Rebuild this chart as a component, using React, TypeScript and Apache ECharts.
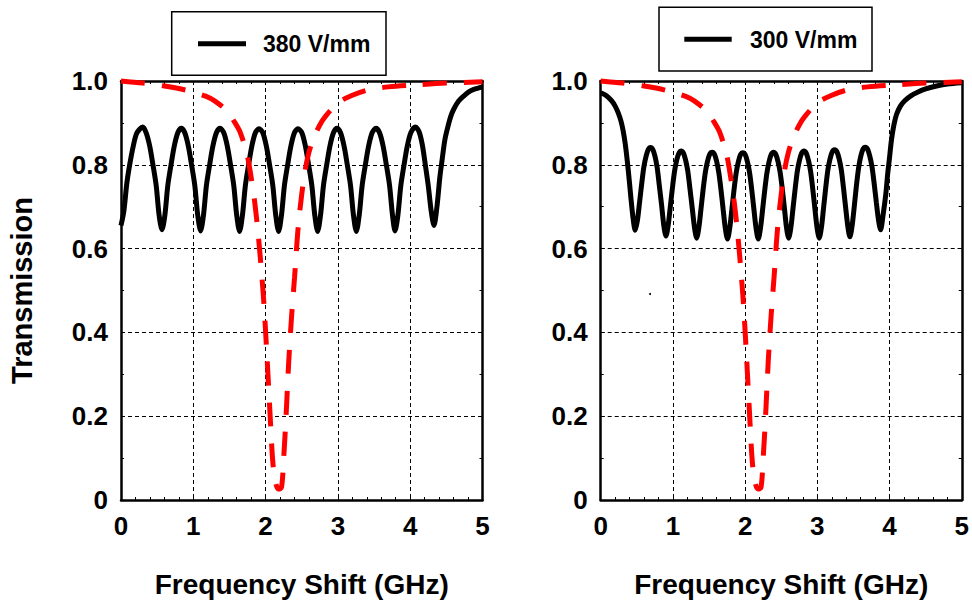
import React, { useEffect, useRef } from 'react';
import * as echarts from 'echarts';

const FONT = '"Liberation Sans", Arial, Helvetica, sans-serif';

const xTickValues = [0, 1, 2, 3, 4, 5];
const yTickLabels: Record<string, string> = { '0': '0', '0.2': '0.2', '0.4': '0.4', '0.6': '0.6', '0.8': '0.8', '1': '1.0' };
const xAxisTitle = 'Frequency Shift (GHz)';
const yAxisTitle = 'Transmission';
const leftLegend = '380 V/mm';
const rightLegend = '300 V/mm';

// 380 V/mm (left panel, black solid)
const black380: [number, number][] = [
  [0, 0.655], [0.04, 0.69], [0.08, 0.755], [0.12, 0.8], [0.17, 0.845], [0.22, 0.876], [0.3, 0.89],
  [0.347, 0.877], [0.397, 0.845], [0.442, 0.8], [0.487, 0.75], [0.527, 0.68], [0.567, 0.645],
  [0.607, 0.68], [0.647, 0.75], [0.692, 0.8], [0.737, 0.845], [0.787, 0.877], [0.834, 0.887],
  [0.881, 0.877], [0.931, 0.845], [0.976, 0.8], [1.021, 0.75], [1.061, 0.68], [1.101, 0.642],
  [1.141, 0.68], [1.181, 0.75], [1.226, 0.8], [1.271, 0.845], [1.321, 0.877], [1.369, 0.887],
  [1.42, 0.877], [1.47, 0.845], [1.515, 0.8], [1.56, 0.75], [1.6, 0.68], [1.64, 0.641],
  [1.68, 0.68], [1.72, 0.75], [1.765, 0.8], [1.81, 0.845], [1.86, 0.877], [1.909, 0.886],
  [1.96, 0.877], [2.01, 0.845], [2.055, 0.8], [2.1, 0.75], [2.14, 0.68], [2.18, 0.641],
  [2.22, 0.68], [2.26, 0.75], [2.305, 0.8], [2.35, 0.845], [2.4, 0.877], [2.448, 0.886],
  [2.5, 0.877], [2.55, 0.845], [2.595, 0.8], [2.64, 0.75], [2.68, 0.68], [2.72, 0.641],
  [2.76, 0.68], [2.8, 0.75], [2.845, 0.8], [2.89, 0.845], [2.94, 0.877], [2.988, 0.887],
  [3.035, 0.877], [3.085, 0.845], [3.13, 0.8], [3.175, 0.75], [3.215, 0.68], [3.255, 0.641],
  [3.295, 0.68], [3.335, 0.75], [3.38, 0.8], [3.425, 0.845], [3.475, 0.877], [3.527, 0.887],
  [3.575, 0.877], [3.625, 0.845], [3.67, 0.8], [3.715, 0.75], [3.755, 0.68], [3.79, 0.642],
  [3.83, 0.68], [3.87, 0.75], [3.915, 0.8], [3.96, 0.845], [4.01, 0.877], [4.071, 0.89],
  [4.12, 0.88], [4.165, 0.85], [4.205, 0.805], [4.25, 0.75], [4.29, 0.69], [4.329, 0.655],
  [4.37, 0.7], [4.41, 0.77], [4.44, 0.81], [4.48, 0.86], [4.52, 0.89], [4.56, 0.915],
  [4.6, 0.932], [4.67, 0.952], [4.74, 0.964], [4.81, 0.974], [4.88, 0.98], [5.0, 0.986],
];

// 300 V/mm (right panel, black solid)
const black300: [number, number][] = [
  [0, 0.972], [0.08, 0.965], [0.15, 0.953], [0.2, 0.94], [0.24, 0.925], [0.28, 0.905], [0.31, 0.882],
  [0.34, 0.85], [0.37, 0.806], [0.4, 0.755], [0.42, 0.718], [0.45, 0.67], [0.478, 0.644],
  [0.508, 0.667], [0.538, 0.71], [0.568, 0.755], [0.598, 0.795], [0.628, 0.82], [0.658, 0.836], [0.69, 0.841],
  [0.722, 0.836], [0.752, 0.82], [0.782, 0.793], [0.812, 0.75], [0.844, 0.703], [0.874, 0.655], [0.904, 0.63],
  [0.934, 0.655], [0.964, 0.7], [0.994, 0.746], [1.024, 0.786], [1.054, 0.812], [1.084, 0.828], [1.115, 0.833],
  [1.146, 0.828], [1.176, 0.811], [1.206, 0.785], [1.236, 0.743], [1.268, 0.696], [1.299, 0.65], [1.329, 0.625],
  [1.359, 0.65], [1.389, 0.695], [1.419, 0.742], [1.449, 0.782], [1.479, 0.808], [1.509, 0.825], [1.543, 0.83],
  [1.576, 0.825], [1.606, 0.808], [1.636, 0.781], [1.666, 0.74], [1.696, 0.693], [1.726, 0.648], [1.756, 0.623],
  [1.786, 0.648], [1.816, 0.693], [1.846, 0.74], [1.876, 0.781], [1.906, 0.807], [1.936, 0.824], [1.97, 0.829],
  [2.002, 0.824], [2.032, 0.807], [2.062, 0.781], [2.092, 0.74], [2.122, 0.693], [2.152, 0.648], [2.182, 0.623],
  [2.212, 0.648], [2.242, 0.693], [2.272, 0.74], [2.302, 0.781], [2.332, 0.808], [2.362, 0.825], [2.394, 0.83],
  [2.425, 0.825], [2.455, 0.808], [2.485, 0.782], [2.515, 0.742], [2.545, 0.695], [2.573, 0.65], [2.603, 0.625],
  [2.633, 0.65], [2.663, 0.696], [2.693, 0.743], [2.723, 0.785], [2.753, 0.811], [2.783, 0.828], [2.815, 0.833],
  [2.846, 0.828], [2.876, 0.811], [2.906, 0.785], [2.936, 0.743], [2.966, 0.696], [2.996, 0.65], [3.026, 0.625],
  [3.056, 0.65], [3.086, 0.697], [3.116, 0.745], [3.146, 0.788], [3.176, 0.814], [3.206, 0.831], [3.24, 0.836],
  [3.272, 0.831], [3.302, 0.814], [3.332, 0.788], [3.362, 0.745], [3.392, 0.698], [3.422, 0.653], [3.451, 0.628],
  [3.481, 0.654], [3.511, 0.7], [3.541, 0.75], [3.571, 0.792], [3.601, 0.82], [3.631, 0.837], [3.665, 0.842],
  [3.697, 0.837], [3.727, 0.82], [3.757, 0.795], [3.787, 0.755], [3.817, 0.71], [3.847, 0.668], [3.876, 0.645],
  [3.91, 0.68], [3.948, 0.73], [3.975, 0.78], [3.995, 0.81], [4.027, 0.86], [4.06, 0.895], [4.096, 0.92],
  [4.15, 0.94], [4.21, 0.953], [4.3, 0.965], [4.373, 0.972], [4.5, 0.981], [4.65, 0.988], [4.8, 0.993], [5.0, 0.996],
];

// Red dashed reference curve (same in both panels)
const redDashed: [number, number][] = [
  [0, 1.0], [0.3, 0.995], [0.6, 0.988], [0.9, 0.978], [1.17, 0.964], [1.3, 0.952], [1.47, 0.928],
  [1.56, 0.905], [1.65, 0.877], [1.745, 0.823], [1.8, 0.77], [1.85, 0.71], [1.9, 0.63], [1.95, 0.53],
  [1.98, 0.46], [2.02, 0.34], [2.06, 0.21], [2.1, 0.09], [2.14, 0.04], [2.18, 0.026], [2.22, 0.03],
  [2.25, 0.1], [2.28, 0.19], [2.32, 0.33], [2.36, 0.44], [2.4, 0.53], [2.45, 0.65], [2.5, 0.73],
  [2.55, 0.79], [2.6, 0.83], [2.66, 0.862], [2.75, 0.895], [2.83, 0.916], [3.0, 0.948], [3.2, 0.966],
  [3.4, 0.978], [3.7, 0.986], [4.1, 0.991], [4.5, 0.995], [5.0, 0.998],
];

const grids = [
  { left: 121, top: 81, width: 361.5, height: 421.3 },
  { left: 600.7, top: 81, width: 361.3, height: 421.3 },
];

const tickLabelStyle = { color: '#000', fontSize: 26, fontWeight: 'bold' as const, fontFamily: FONT };
const axisLineStyle = { color: '#000', width: 2.5 };
const tickStyle = { color: '#000', width: 1 };

function xAxesFor(gi: number) {
  const base = {
    gridIndex: gi, type: 'value' as const, min: xTickValues[0], max: xTickValues[xTickValues.length - 1], interval: 1,
    axisLine: { show: true, onZero: false, lineStyle: axisLineStyle },
    axisTick: { show: true, inside: true, length: 4, lineStyle: tickStyle },
    minorTick: { show: true, splitNumber: 5, length: 3, lineStyle: tickStyle },
  };
  return [
    {
      ...base, position: 'bottom',
      splitLine: { show: true, lineStyle: { color: '#000', width: 1, type: [4, 3] } },
      axisLabel: { ...tickLabelStyle, margin: 13 },
      name: xAxisTitle, nameLocation: 'middle', nameGap: 84,
      nameTextStyle: { color: '#000', fontSize: 28, fontWeight: 'bold', fontFamily: FONT, verticalAlign: 'middle' },
    },
    { ...base, position: 'top', splitLine: { show: false }, axisLabel: { show: false } },
  ];
}

function yAxesFor(gi: number, withName: boolean) {
  const base = {
    gridIndex: gi, type: 'value' as const, min: 0, max: 1, interval: 0.2,
    axisLine: { show: true, onZero: false, lineStyle: axisLineStyle },
    axisTick: { show: true, inside: true, length: 4, lineStyle: tickStyle },
    minorTick: { show: true, splitNumber: 2, length: 3, lineStyle: tickStyle },
  };
  const left: any = {
    ...base, position: 'left',
    splitLine: { show: true, lineStyle: { color: '#000', width: 1, type: [4, 3] } },
    axisLabel: {
      ...tickLabelStyle, margin: 13,
      formatter: (v: number) => yTickLabels[String(Math.round(v * 10) / 10)] ?? String(v),
    },
  };
  if (withName) {
    Object.assign(left, {
      name: yAxisTitle, nameLocation: 'middle', nameGap: 99,
      nameTextStyle: { color: '#000', fontSize: 29, fontWeight: 'bold', fontFamily: FONT, verticalAlign: 'middle' },
    });
  }
  return [left, { ...base, position: 'right', splitLine: { show: false }, axisLabel: { show: false } }];
}

function legendBox(x: number, y: number, w: number, h: number, lx1: number, lx2: number, ly: number, tx: number, text: string) {
  return [
    { type: 'rect', shape: { x, y, width: w, height: h }, style: { fill: '#fff', stroke: '#000', lineWidth: 1.5 }, z: 10 },
    { type: 'line', shape: { x1: lx1, y1: ly, x2: lx2, y2: ly }, style: { stroke: '#000', lineWidth: 5 }, z: 11 },
    {
      type: 'text', x: tx, y: ly + 0.5, z: 11,
      style: { text, fill: '#000', fontSize: 23, fontWeight: 'bold', fontFamily: FONT, align: 'left', verticalAlign: 'middle' },
    },
  ];
}

export default function App() {
  const ref = useRef<HTMLDivElement>(null);
  useEffect(() => {
    if (!ref.current) return;
    const chart = echarts.init(ref.current, null, { renderer: 'svg' });
    const option: any = {
      animation: false,
      backgroundColor: '#fff',
      grid: grids,
      xAxis: [...xAxesFor(0), ...xAxesFor(1)],
      yAxis: [...yAxesFor(0, true), ...yAxesFor(1, false)],
      series: [
        {
          name: leftLegend, type: 'line', xAxisIndex: 0, yAxisIndex: 0, data: black380, symbol: 'none',
          smooth: 0.3, clip: false, lineStyle: { color: '#000', width: 5 }, z: 3,
        },
        {
          name: 'reference-left', type: 'line', xAxisIndex: 0, yAxisIndex: 0, data: redDashed, symbol: 'none',
          smooth: 0.3, clip: false, lineStyle: { color: '#ff0000', width: 5, type: [24, 17] }, z: 4,
        },
        {
          name: rightLegend, type: 'line', xAxisIndex: 2, yAxisIndex: 2, data: black300, symbol: 'none',
          smooth: 0.3, clip: false, lineStyle: { color: '#000', width: 5 }, z: 3,
        },
        {
          name: 'reference-right', type: 'line', xAxisIndex: 2, yAxisIndex: 2, data: redDashed, symbol: 'none',
          smooth: 0.3, clip: false, lineStyle: { color: '#ff0000', width: 5, type: [24, 17] }, z: 4,
        },
      ],
      graphic: [
        ...legendBox(171.7, 11.7, 214.3, 63.6, 198, 246, 43.7, 263, leftLegend),
        ...legendBox(659, 7.3, 213, 63.7, 684.3, 731.7, 39.3, 750, rightLegend),
        { type: 'circle', shape: { cx: 650, cy: 294, r: 1 }, style: { fill: '#000' } },
      ],
    };
    chart.setOption(option);
    return () => chart.dispose();
  }, []);
  return <div ref={ref} style={{ position: 'absolute', left: 0, top: 0, width: 972, height: 603 }} />;
}
